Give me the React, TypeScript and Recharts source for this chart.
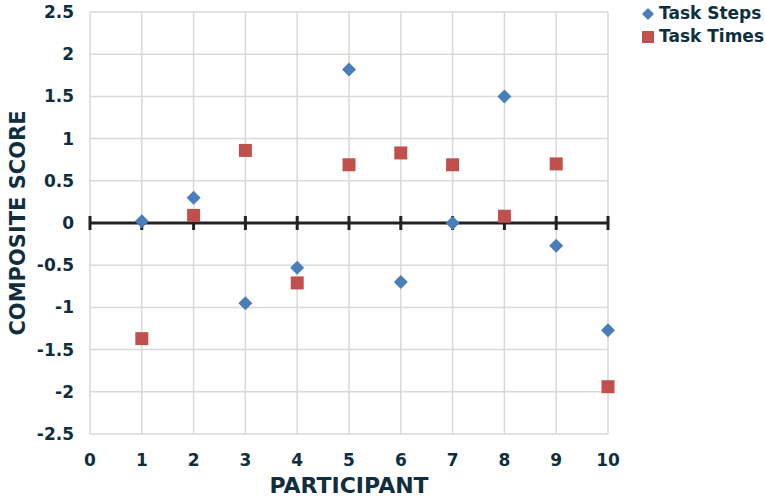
import React from 'react';
import { ScatterChart, Scatter, XAxis, YAxis, CartesianGrid, ReferenceLine } from 'recharts';

const participants = [1, 2, 3, 4, 5, 6, 7, 8, 9, 10];
const taskSteps = [0.02, 0.3, -0.95, -0.53, 1.82, -0.7, 0.0, 1.5, -0.27, -1.27];
const taskTimes = [-1.37, 0.09, 0.86, -0.71, 0.69, 0.83, 0.69, 0.08, 0.7, -1.94];
const xTicks = [0, 1, 2, 3, 4, 5, 6, 7, 8, 9, 10];
const yTicks = [-2.5, -2, -1.5, -1, -0.5, 0, 0.5, 1, 1.5, 2, 2.5];

const stepsData = participants.map((p, i) => ({ x: p, y: taskSteps[i] }));
const timesData = participants.map((p, i) => ({ x: p, y: taskTimes[i] }));
const zeroTicks = xTicks.map(t => ({ x: t, y: 0 }));

const TEXT = '#0f2f3f';
const FONT = '"DejaVu Sans", sans-serif';
const BLUE = '#4a7ebb';
const RED = '#c0504d';

const Diamond = (props: any) => {
  const { cx, cy } = props;
  const r = 7;
  return <polygon points={`${cx},${cy - r} ${cx + r},${cy} ${cx},${cy + r} ${cx - r},${cy}`} fill={BLUE} />;
};

const Square = (props: any) => {
  const { cx, cy } = props;
  const s = 13;
  return <rect x={cx - s / 2} y={cy - s / 2} width={s} height={s} fill={RED} />;
};

const TickMark = (props: any) => {
  const { cx, cy } = props;
  return <line x1={cx} x2={cx} y1={cy - 7} y2={cy + 7} stroke="#222" strokeWidth={3} />;
};

const ChartLegend = () => (
  <div style={{ position: 'absolute', left: 641, top: 2, fontFamily: FONT, fontWeight: 700, fontSize: 17, color: TEXT, lineHeight: '23px' }}>
    <div style={{ display: 'flex', alignItems: 'center' }}>
      <svg width={14} height={14} style={{ marginRight: 4 }}>
        <polygon points="7,1 13,7 7,13 1,7" fill={BLUE} />
      </svg>
      Task Steps
    </div>
    <div style={{ display: 'flex', alignItems: 'center' }}>
      <svg width={14} height={14} style={{ marginRight: 4 }}>
        <rect x={1} y={1} width={12} height={12} fill={RED} />
      </svg>
      Task Times
    </div>
  </div>
);

export default function App() {
  const tickStyle = { fill: TEXT, fontFamily: FONT, fontWeight: 700, fontSize: 17 };
  return (
    <div style={{ position: 'absolute', left: 0, top: 0, width: 766, height: 498, background: '#fff' }}>
      <ScatterChart width={766} height={498} margin={{ top: 12, right: 158, bottom: 0, left: 0 }}>
        <CartesianGrid stroke="#d9d9d9" strokeWidth={1.5} />
        <XAxis
          type="number"
          dataKey="x"
          domain={[0, 10]}
          ticks={xTicks}
          interval={0}
          axisLine={false}
          tickLine={false}
          tickMargin={14}
          height={64}
          tick={tickStyle}
          label={{ value: 'PARTICIPANT', position: 'insideBottom', offset: 5, fill: TEXT, fontFamily: FONT, fontWeight: 700, fontSize: 22 }}
        />
        <YAxis
          type="number"
          dataKey="y"
          domain={[-2.5, 2.5]}
          ticks={yTicks}
          interval={0}
          axisLine={false}
          tickLine={false}
          tickMargin={10}
          width={90}
          tick={tickStyle}
          label={{ value: 'COMPOSITE SCORE', angle: -90, position: 'insideLeft', offset: 18, style: { textAnchor: 'middle' }, fill: TEXT, fontFamily: FONT, fontWeight: 700, fontSize: 21 }}
        />
        <ReferenceLine y={0} stroke="#222" strokeWidth={3} />
        <Scatter data={zeroTicks} shape={TickMark} isAnimationActive={false} legendType="none" />
        <Scatter name="Task Steps" data={stepsData} shape={Diamond} isAnimationActive={false} />
        <Scatter name="Task Times" data={timesData} shape={Square} isAnimationActive={false} />
      </ScatterChart>
      <ChartLegend />
    </div>
  );
}
